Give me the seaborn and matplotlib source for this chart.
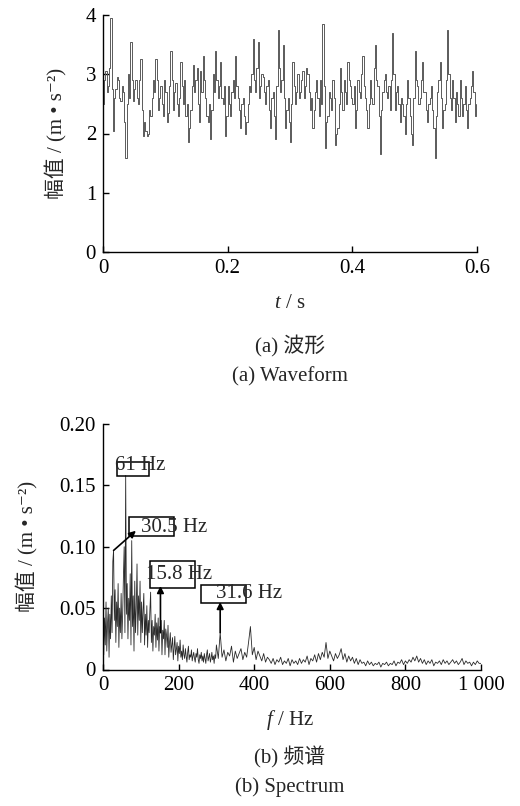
import numpy as np
import pandas as pd
import matplotlib
matplotlib.use("Agg")
import matplotlib.pyplot as plt
import seaborn as sns
from matplotlib.patches import Rectangle

wave_step = 0.002
wave_amp = [2.5, 2.9, 3.05, 2.7, 2.8, 3.1, 3.95, 2.75, 2.05, 2.6,
            2.75, 2.95, 2.9, 2.6, 2.55, 2.8, 2.7, 2.2, 1.58, 2.5,
            3.0, 2.6, 3.55, 2.9, 2.55, 2.75, 2.9, 2.6, 2.5, 2.9,
            3.25, 2.4, 1.95, 2.2, 2.05, 1.95, 2.0, 2.4, 2.3, 2.6,
            2.9, 2.7, 3.25, 2.9, 2.4, 2.6, 2.8, 2.5, 2.3, 2.9,
            2.7, 2.2, 2.35, 2.8, 3.4, 2.9, 2.4, 2.7, 2.85, 2.5,
            2.3, 2.6, 3.2, 2.8, 2.5, 2.9, 2.3, 2.5, 1.85, 2.1,
            2.4, 2.8, 3.15, 2.7, 2.9, 3.1, 2.5, 2.2, 3.05, 2.7,
            3.3, 2.9, 2.6, 2.3, 2.2, 2.5, 1.9, 2.4, 3.0, 2.7,
            3.4, 2.9, 2.6, 2.8, 3.2, 2.6, 2.5, 2.8, 1.95, 2.3,
            2.8, 2.5, 2.3, 2.7, 2.9, 2.6, 3.3, 2.8, 2.6, 2.4,
            2.1, 2.5, 2.6, 2.3, 2.0, 2.2, 2.5, 2.8, 2.7, 3.0,
            3.6, 2.9, 2.7, 3.1, 3.55, 2.6, 2.8, 3.0, 2.95, 2.7,
            2.5, 2.8, 2.9, 2.4, 2.1, 2.6, 2.7, 2.3, 1.9, 2.8,
            3.75, 3.1, 2.7, 2.9, 3.5, 2.6, 2.1, 2.4, 2.6, 2.2,
            1.85, 2.5, 3.2, 2.8, 2.5, 2.7, 3.0, 2.6, 2.7, 2.9,
            3.05, 2.6, 2.8, 3.1, 3.0, 2.7, 2.4, 2.6, 2.1, 2.4,
            2.7, 2.9, 2.6, 2.3, 2.9, 2.5, 3.85, 2.8, 1.75, 2.2,
            2.3, 2.7, 2.6, 2.4, 2.9, 2.6, 1.8, 2.0, 2.1, 2.5,
            3.1, 2.7, 2.4, 2.9, 2.7, 2.5, 3.2, 2.9, 2.8, 2.6,
            2.5, 2.8, 2.1, 2.4, 2.9, 2.7, 2.6, 3.0, 3.3, 2.8,
            2.6, 2.4, 2.1, 2.5, 2.9, 2.6, 2.5, 3.1, 3.5, 2.9,
            2.8, 2.3, 1.65, 2.4, 2.7, 2.9, 3.0, 2.7, 2.6, 2.8,
            2.4, 2.9, 3.7, 3.0, 2.4, 2.7, 2.8, 2.5, 2.2, 2.6,
            2.5, 2.3, 2.0, 2.5, 2.9, 2.6, 2.3, 2.0, 1.8, 2.6,
            3.4, 2.9, 2.8, 2.5, 2.6, 2.9, 3.2, 2.7, 2.7, 2.4,
            2.2, 2.5, 2.6, 2.8, 2.4, 2.1, 1.58, 2.3, 2.7, 2.9,
            3.2, 2.6, 2.1, 2.4, 2.5, 2.9, 3.75, 3.0, 2.6, 2.4,
            2.9, 2.6, 2.2, 2.7, 2.5, 2.3, 2.9, 2.6, 2.3, 2.5,
            2.8, 2.4, 2.1, 2.5, 2.6, 2.8, 3.05, 2.7, 2.3, 2.5]

# amplitude spectrum, 0-298 Hz every 2 Hz
spec_low_step = 2
spec_low_amp = [0.030, 0.012, 0.042, 0.020, 0.055, 0.015, 0.038, 0.050, 0.010, 0.045,
                0.025, 0.060, 0.030, 0.088, 0.097, 0.040, 0.065, 0.022, 0.055, 0.035,
                0.070, 0.018, 0.050, 0.030, 0.062, 0.025, 0.045, 0.075, 0.100, 0.030,
                0.158, 0.045, 0.070, 0.025, 0.058, 0.040, 0.078, 0.020, 0.105, 0.035,
                0.060, 0.015, 0.072, 0.030, 0.050, 0.086, 0.028, 0.060, 0.040, 0.072,
                0.022, 0.055, 0.030, 0.048, 0.062, 0.020, 0.045, 0.028, 0.052, 0.018,
                0.040, 0.030, 0.048, 0.063, 0.022, 0.040, 0.015, 0.035, 0.028, 0.045,
                0.018, 0.038, 0.024, 0.042, 0.015, 0.035, 0.030, 0.040, 0.012, 0.032,
                0.025, 0.040, 0.012, 0.033, 0.028, 0.018, 0.036, 0.010, 0.022, 0.030,
                0.014, 0.020, 0.026, 0.008, 0.018, 0.027, 0.012, 0.016, 0.022, 0.007,
                0.019, 0.013, 0.024, 0.010, 0.015, 0.008, 0.020, 0.012, 0.009, 0.017,
                0.011, 0.006, 0.014, 0.019, 0.008, 0.012, 0.010, 0.016, 0.007, 0.011,
                0.014, 0.009, 0.006, 0.013, 0.010, 0.017, 0.008, 0.005, 0.012, 0.009,
                0.014, 0.007, 0.011, 0.006, 0.013, 0.009, 0.005, 0.012, 0.016, 0.007,
                0.010, 0.013, 0.006, 0.009, 0.014, 0.008, 0.011, 0.005, 0.012, 0.009]

# amplitude spectrum, 300-1000 Hz every 5 Hz
spec_high_start = 300
spec_high_step = 5
spec_high_amp = [0.020, 0.009, 0.030, 0.010, 0.016, 0.007, 0.014, 0.011, 0.019, 0.006,
                 0.015, 0.009, 0.013, 0.017, 0.008, 0.014, 0.010, 0.022, 0.035, 0.012,
                 0.018, 0.008, 0.015, 0.011, 0.007, 0.013, 0.006, 0.010, 0.008, 0.005,
                 0.009, 0.004, 0.008, 0.006, 0.010, 0.004, 0.007, 0.005, 0.009, 0.003,
                 0.008, 0.005, 0.007, 0.004, 0.009, 0.005, 0.008, 0.006, 0.011, 0.004,
                 0.009, 0.007, 0.012, 0.006, 0.013, 0.008, 0.014, 0.010, 0.022, 0.009,
                 0.015, 0.011, 0.007, 0.013, 0.009, 0.012, 0.017, 0.008, 0.013, 0.006,
                 0.011, 0.007, 0.010, 0.005, 0.009, 0.004, 0.008, 0.005, 0.006, 0.003,
                 0.007, 0.004, 0.006, 0.003, 0.005, 0.004, 0.006, 0.002, 0.005, 0.004,
                 0.006, 0.003, 0.005, 0.004, 0.007, 0.003, 0.006, 0.005, 0.008, 0.004,
                 0.007, 0.005, 0.008, 0.006, 0.010, 0.007, 0.011, 0.006, 0.009, 0.005,
                 0.008, 0.004, 0.007, 0.005, 0.008, 0.003, 0.006, 0.005, 0.007, 0.004,
                 0.008, 0.005, 0.007, 0.004, 0.006, 0.008, 0.005, 0.007, 0.004, 0.006,
                 0.009, 0.004, 0.007, 0.005, 0.006, 0.003, 0.006, 0.004, 0.007, 0.005,
                 0.005]

# peak annotations: label, frequency the arrow starts from (None = no arrow)
ann_labels = ["61 Hz", "30.5 Hz", "15.8 Hz", "31.6 Hz"]
ann_freqs = [None, 28, 152, 310]

wave_t = np.arange(len(wave_amp)) * wave_step
spec_f = np.concatenate([np.arange(len(spec_low_amp)) * spec_low_step,
                         spec_high_start + np.arange(len(spec_high_amp)) * spec_high_step])
df_wave = pd.DataFrame({"t": wave_t, "amp": wave_amp})
df_spec = pd.DataFrame({"f": spec_f, "amp": spec_low_amp + spec_high_amp})

sns.set_theme(style="ticks")
plt.rcParams["font.family"] = ["Liberation Serif", "Noto Sans CJK SC", "DejaVu Serif"]
plt.rcParams["mathtext.fontset"] = "custom"
plt.rcParams["mathtext.rm"] = "Liberation Serif"
plt.rcParams["mathtext.it"] = "Liberation Serif:italic"
plt.rcParams["axes.unicode_minus"] = False

fs = 15
fig = plt.figure(figsize=(5.2, 8.06), dpi=100)
W, H = 520, 806
ax1 = fig.add_axes([103 / W, 1 - 252 / H, 374 / W, 237 / H])
ax2 = fig.add_axes([103 / W, 1 - 669.5 / H, 378 / W, 245.5 / H])

ylab = "幅值 / (m • s⁻²)"

# (a) waveform
sns.lineplot(data=df_wave, x="t", y="amp", ax=ax1, estimator=None,
             drawstyle="steps-post", color="#5a5a5a", linewidth=0.7)
ax1.set_xlim(0, 0.6)
ax1.set_ylim(0, 4)
ax1.set_xticks([0, 0.2, 0.4, 0.6])
ax1.set_xticklabels(["0", "0.2", "0.4", "0.6"])
ax1.set_yticks([0, 1, 2, 3, 4])
ax1.set_xlabel("")
ax1.set_ylabel(ylab, fontsize=fs)
ax1.yaxis.set_label_coords((67 - 103) / 374, 0.5)

# (b) spectrum
sns.lineplot(data=df_spec, x="f", y="amp", ax=ax2, estimator=None,
             color="#2a2a2a", linewidth=0.6)
ax2.set_xlim(0, 1000)
ax2.set_ylim(0, 0.2)
ax2.set_xticks([0, 200, 400, 600, 800, 1000])
ax2.set_xticklabels(["0", "200", "400", "600", "800", "1 000"])
ax2.set_yticks([0, 0.05, 0.10, 0.15, 0.20])
ax2.set_yticklabels(["0", "0.05", "0.10", "0.15", "0.20"])
ax2.set_xlabel("")
ax2.set_ylabel(ylab, fontsize=fs)
ax2.yaxis.set_label_coords((38 - 103) / 378, 0.5)

# annotation boxes (x0, x1, y0, y1), text anchors and arrow heads
boxes = [(36, 123, 0.158, 0.169), (68, 187, 0.109, 0.124),
         (124, 243, 0.066, 0.088), (258, 377, 0.054, 0.069)]
text_pos = [(33, 0.166), (100, 0.116), (115, 0.077), (300, 0.062)]
arrow_heads = [None, (87, 0.113), (152, 0.068), (310, 0.055)]
for lab, fpk, (x0, x1, y0, y1), (tx, ty), head in zip(
        ann_labels, ann_freqs, boxes, text_pos, arrow_heads):
    ax2.add_patch(Rectangle((x0, y0), x1 - x0, y1 - y0, fill=False,
                            edgecolor="black", linewidth=1.1, zorder=4))
    ax2.text(tx, ty, lab, fontsize=fs, va="center", ha="left", zorder=5)
    if fpk is not None:
        tail = (fpk, df_spec.loc[df_spec.f == fpk, "amp"].iloc[0])
        ax2.annotate("", xy=head, xytext=tail,
                     arrowprops=dict(arrowstyle="-|>", color="black",
                                     lw=1.2, mutation_scale=10,
                                     shrinkA=0, shrinkB=0), zorder=5)

for ax in (ax1, ax2):
    sns.despine(ax=ax)
    ax.tick_params(direction="in", length=4, width=1, labelsize=fs,
                   colors="black", pad=5)
    for s in ("left", "bottom"):
        ax.spines[s].set_color("black")
        ax.spines[s].set_linewidth(1.0)
    ax.grid(False)

# axis titles and captions
cx = 290 / W
fig.text(cx, 1 - 304 / H, "$t$ / s", ha="center", va="center", fontsize=fs)
fig.text(cx, 1 - 346 / H, "(a) 波形", ha="center", va="center", fontsize=fs)
fig.text(cx, 1 - 377 / H, "(a) Waveform", ha="center", va="center", fontsize=fs)
fig.text(cx, 1 - 720 / H, "$f$ / Hz", ha="center", va="center", fontsize=fs)
fig.text(cx, 1 - 757 / H, "(b) 频谱", ha="center", va="center", fontsize=fs)
fig.text(cx, 1 - 787 / H, "(b) Spectrum", ha="center", va="center", fontsize=fs)

fig.savefig("out.png", dpi=100, facecolor="white")
